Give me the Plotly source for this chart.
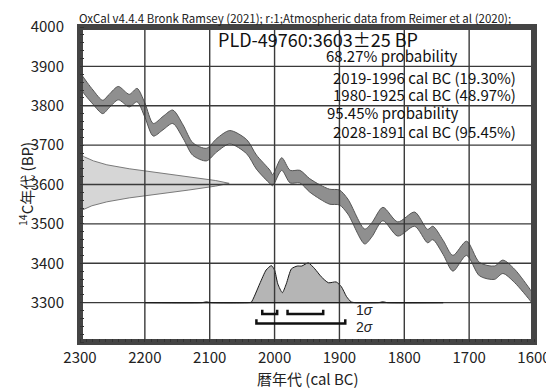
import plotly.graph_objects as go

# ---- calibration curve (IntCal20 band): year BC, centre BP, half-width BP ----
cal_years = [2300, 2297, 2280, 2265, 2255, 2241, 2224, 2212, 2200, 2187, 2172, 2157,
             2141, 2126, 2105, 2089, 2069, 2043, 2028, 2007, 2003, 1989, 1976, 1961,
             1946, 1930, 1915, 1900, 1887, 1861, 1850, 1833, 1810, 1784, 1764, 1756,
             1740, 1725, 1704, 1684, 1661, 1648, 1630, 1604, 1600]
cal_bp = [3868, 3858, 3822, 3797, 3812, 3832, 3813, 3827, 3789, 3739, 3756, 3772,
          3734, 3690, 3676, 3700, 3720, 3696, 3657, 3619, 3611, 3652, 3620, 3620,
          3598, 3581, 3569, 3567, 3544, 3468, 3485, 3525, 3487, 3512, 3469, 3477,
          3440, 3400, 3438, 3385, 3376, 3391, 3368, 3315, 3305]
cal_err = [20, 20, 18, 17, 17, 17, 16, 17, 18, 16, 17, 17,
           17, 16, 16, 17, 17, 18, 18, 17, 14, 16, 16, 16,
           17, 18, 19, 19, 19, 19, 18, 17, 18, 18, 17, 17,
           18, 20, 18, 17, 17, 17, 17, 14, 14]

# ---- measured radiocarbon date (3603 +- 25 BP) as drawn on the y axis ----
date_bp = [3678, 3670, 3660, 3650, 3640, 3630, 3620, 3610, 3603, 3596, 3586, 3576,
           3566, 3556, 3546, 3536, 3528]
date_rel = [0.0, 0.03, 0.09, 0.18, 0.33, 0.52, 0.73, 0.91, 1.0, 0.91, 0.73, 0.52,
            0.33, 0.18, 0.08, 0.02, 0.0]

# ---- calibrated posterior: year BC, relative probability ----
post_years = [2200, 2112, 2105, 2098, 2040, 2036, 2023, 2013, 2005, 2000, 1995, 1988,
              1982, 1974, 1965, 1958, 1948, 1938, 1928, 1917, 1905, 1897, 1889, 1882,
              1876, 1840, 1833, 1826, 1740]
post_rel = [0.0, 0.0, 0.02, 0.0, 0.0, 0.01, 0.47, 0.82, 0.93, 0.82, 0.47, 0.25,
            0.47, 0.85, 0.92, 0.92, 1.0, 0.85, 0.65, 0.5, 0.52, 0.4, 0.15, 0.02,
            0.0, 0.0, 0.02, 0.0, 0.0]

# ---- sigma ranges ----
one_sigma = [(2019, 1996), (1980, 1925)]
two_sigma = [(2028, 1891)]

header = "OxCal v4.4.4 Bronk Ramsey (2021); r:1;Atmospheric data from Reimer et al (2020);"
title_text = "PLD-49760:3603±25 BP"
legend_lines = ["68.27% probability", "2019-1996 cal BC (19.30%)", "1980-1925 cal BC (48.97%)",
                "95.45% probability", "2028-1891 cal BC (95.45%)"]
x_title = "暦年代 (cal BC)"
y_title = "<sup>14</sup>C年代 (BP)"

x_ticks = [2300, 2200, 2100, 2000, 1900, 1800, 1700, 1600]
y_ticks = [3300, 3400, 3500, 3600, 3700, 3800, 3900, 4000]
X_RANGE = [2300, 1600]
Y_RANGE = [3200, 4000]

FONT = "Noto Sans CJK JP"
GRID = "#3a3a3a"
FRAME = "#444444"

W, H = 546, 381
ML, MR, MT, MB = 72, 20, 19, 47
PX_X = abs(X_RANGE[0] - X_RANGE[1]) / (W - ML - MR)   # data units per pixel
PX_Y = abs(Y_RANGE[1] - Y_RANGE[0]) / (H - MT - MB)
GRID_PX = 1.4
FRAME_PX = 3

fig = go.Figure()


def rect(x0, x1, y0, y1, color):
    fig.add_trace(go.Scatter(x=[x0, x1, x1, x0, x0], y=[y0, y0, y1, y1, y0],
                             mode="none", fill="toself", fillcolor=color,
                             hoverinfo="skip", showlegend=False))


# measured date distribution (left)
DATE_W = 230
fig.add_trace(go.Scatter(
    x=[X_RANGE[0] - r * DATE_W for r in date_rel], y=date_bp, mode="lines",
    fill="toself", fillcolor="#d6d6d6", line=dict(color="#7a7a7a", width=1),
    hoverinfo="skip", showlegend=False))

# calibration band
fig.add_trace(go.Scatter(
    x=cal_years, y=[b - e for b, e in zip(cal_bp, cal_err)], mode="lines",
    line=dict(color="#555555", width=1, shape="spline", smoothing=0.8),
    hoverinfo="skip", showlegend=False))
fig.add_trace(go.Scatter(
    x=cal_years, y=[b + e for b, e in zip(cal_bp, cal_err)], mode="lines",
    fill="tonexty", fillcolor="#8f8f8f",
    line=dict(color="#555555", width=1, shape="spline", smoothing=0.8),
    hoverinfo="skip", showlegend=False))

# posterior distribution
BASE = 3300
POST_H = 101
fig.add_trace(go.Scatter(
    x=post_years + post_years[::-1],
    y=[BASE + p * POST_H for p in post_rel] + [BASE] * len(post_years),
    mode="lines", fill="toself", fillcolor="#b5b5b5",
    line=dict(color="#1a1a1a", width=1, shape="spline", smoothing=0.6),
    hoverinfo="skip", showlegend=False))

# gridlines drawn over the fills, as in the original
for xv in x_ticks[1:-1]:
    rect(xv + 0.5 * GRID_PX * PX_X, xv - 0.5 * GRID_PX * PX_X, Y_RANGE[0], Y_RANGE[1], GRID)
for yv in y_ticks[:-1]:
    rect(X_RANGE[0], X_RANGE[1], yv - 0.5 * GRID_PX * PX_Y, yv + 0.5 * GRID_PX * PX_Y, GRID)

# plot frame
rect(X_RANGE[0], X_RANGE[0] - FRAME_PX * PX_X, Y_RANGE[0], Y_RANGE[1], FRAME)
rect(X_RANGE[1] + FRAME_PX * PX_X, X_RANGE[1], Y_RANGE[0], Y_RANGE[1], FRAME)
rect(X_RANGE[0], X_RANGE[1], Y_RANGE[0], Y_RANGE[0] + FRAME_PX * PX_Y, FRAME)
rect(X_RANGE[0], X_RANGE[1], Y_RANGE[1] - FRAME_PX * PX_Y, Y_RANGE[1], FRAME)

fig.add_trace(go.Scatter(
    x=[post_years[0], post_years[-1]], y=[BASE, BASE], mode="lines",
    line=dict(color="#1a1a1a", width=1), hoverinfo="skip", showlegend=False))

# sigma brackets
def bracket(ranges, ybar, ytop):
    for a, b in ranges:
        fig.add_trace(go.Scatter(
            x=[a, a, b, b], y=[ytop, ybar, ybar, ytop], mode="lines",
            line=dict(color="#111111", width=2.5), hoverinfo="skip", showlegend=False))

bracket(one_sigma, 3271, 3282)
bracket(two_sigma, 3247, 3258)

fig.add_annotation(x=1878, y=3281, xref="x", yref="y", text="1<i>σ</i>", showarrow=False,
                   xanchor="left", yanchor="middle",
                   font=dict(family="Liberation Sans", size=14, color="#222"))
fig.add_annotation(x=1878, y=3239, xref="x", yref="y", text="2<i>σ</i>", showarrow=False,
                   xanchor="left", yanchor="middle",
                   font=dict(family="Liberation Sans", size=14, color="#222"))

# texts
fig.add_annotation(x=-0.007, y=1.029, xref="paper", yref="paper", text=header, showarrow=False,
                   xanchor="left", yanchor="middle",
                   font=dict(family=FONT, size=11.5, color="#222"))
fig.add_annotation(x=0.524, y=0.962, xref="paper", yref="paper", text=title_text, showarrow=False,
                   xanchor="center", yanchor="middle",
                   font=dict(family=FONT, size=18, color="#111"))
leg_pos = [(0.688, 0.909, "center"), (0.964, 0.841, "right"), (0.964, 0.787, "right"),
           (0.690, 0.727, "center"), (0.964, 0.667, "right")]
for (lx, ly, anc), txt in zip(leg_pos, legend_lines):
    fig.add_annotation(x=lx, y=ly, xref="paper", yref="paper", text=txt, showarrow=False,
                       xanchor=anc, yanchor="middle",
                       font=dict(family=FONT, size=15, color="#111"))

# axis titles
fig.add_annotation(x=0.5, y=-0.116, xref="paper", yref="paper", text=x_title, showarrow=False,
                   xanchor="center", yanchor="middle",
                   font=dict(family=FONT, size=15, color="#222"))
fig.add_annotation(x=-0.12, y=0.5, xref="paper", yref="paper", text=y_title, showarrow=False,
                   xanchor="center", yanchor="middle", textangle=-90,
                   font=dict(family=FONT, size=15, color="#222"))

axis_common = dict(showline=True, linecolor=FRAME, linewidth=3, mirror=True,
                   showgrid=False, zeroline=False, automargin=False,
                   tickfont=dict(family=FONT, size=15, color="#222"),
                   ticks="")
fig.update_xaxes(range=X_RANGE, tickvals=x_ticks, ticktext=[str(v) for v in x_ticks],
                 minor=dict(dtick=10, tick0=2300, ticks="inside", ticklen=3, tickcolor="#333",
                            showgrid=False),
                 **axis_common)
fig.update_yaxes(range=Y_RANGE, tickvals=y_ticks, ticktext=[str(v) for v in y_ticks],
                 ticklabelstandoff=10,
                 minor=dict(dtick=20, tick0=3200, ticks="inside", ticklen=4, tickcolor="#333",
                            showgrid=False),
                 **axis_common)

# the page body adds an 8px margin, so the figure is sized to fit the 554x389 window
fig.update_layout(width=W, height=H, margin=dict(l=ML, r=MR, t=MT, b=MB),
                  plot_bgcolor="white", paper_bgcolor="white", showlegend=False)

fig.write_html("out.html")
